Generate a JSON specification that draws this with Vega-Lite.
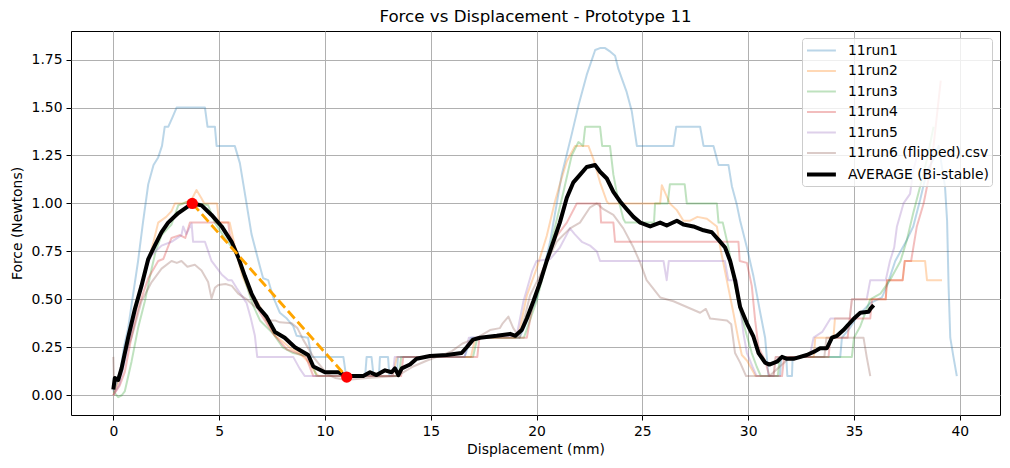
{
  "$schema": "https://vega.github.io/schema/vega-lite/v6.json",
  "width": 929,
  "height": 384,
  "autosize": {"type": "none"},
  "padding": {"left": 71, "top": 31, "right": 10, "bottom": 53},
  "background": "white",
  "title": {"text": "Force vs Displacement - Prototype 11", "font": "DejaVu Sans", "fontSize": 16.67, "fontWeight": "normal", "color": "black", "anchor": "middle", "baseline": "bottom", "offset": 5, "dy": 17},
  "config": {
    "view": {"stroke": "black", "strokeWidth": 1},
    "font": "DejaVu Sans",
    "axis": {"domain": false, "grid": true, "gridColor": "#b0b0b0", "gridWidth": 1, "tickColor": "black", "tickSize": 5, "tickWidth": 1, "labelFont": "DejaVu Sans", "labelFontSize": 13.9, "labelColor": "black", "labelPadding": 4, "titleFont": "DejaVu Sans", "titleFontSize": 13.9, "titleFontWeight": "normal", "titleColor": "black"}
  },
  "datasets": {
    "runs": [
      {"s":"11run1","x":0,"y":0.02},{"s":"11run1","x":0.3,"y":0.1},{"s":"11run1","x":0.5,"y":0.25},{"s":"11run1","x":0.7,"y":0.35},{"s":"11run1","x":0.9,"y":0.5},{"s":"11run1","x":1.17,"y":0.7},{"s":"11run1","x":1.4,"y":0.9},{"s":"11run1","x":1.65,"y":1.1},{"s":"11run1","x":1.9,"y":1.2},{"s":"11run1","x":2.12,"y":1.24},{"s":"11run1","x":2.3,"y":1.3},{"s":"11run1","x":2.43,"y":1.4},{"s":"11run1","x":2.6,"y":1.4},{"s":"11run1","x":2.8,"y":1.45},{"s":"11run1","x":2.99,"y":1.5},{"s":"11run1","x":4.33,"y":1.5},{"s":"11run1","x":4.45,"y":1.4},{"s":"11run1","x":4.8,"y":1.4},{"s":"11run1","x":4.88,"y":1.3},{"s":"11run1","x":5.74,"y":1.3},{"s":"11run1","x":5.98,"y":1.21},{"s":"11run1","x":6.22,"y":1.05},{"s":"11run1","x":6.53,"y":0.84},{"s":"11run1","x":6.93,"y":0.67},{"s":"11run1","x":7.08,"y":0.61},{"s":"11run1","x":7.32,"y":0.6},{"s":"11run1","x":7.56,"y":0.51},{"s":"11run1","x":7.87,"y":0.43},{"s":"11run1","x":8.2,"y":0.4},{"s":"11run1","x":8.5,"y":0.36},{"s":"11run1","x":8.66,"y":0.31},{"s":"11run1","x":9.2,"y":0.3},{"s":"11run1","x":9.37,"y":0.2},{"s":"11run1","x":10.87,"y":0.2},{"s":"11run1","x":11.0,"y":0.1},{"s":"11run1","x":11.9,"y":0.1},{"s":"11run1","x":11.97,"y":0.2},{"s":"11run1","x":12.2,"y":0.2},{"s":"11run1","x":12.3,"y":0.1},{"s":"11run1","x":12.55,"y":0.1},{"s":"11run1","x":12.6,"y":0.2},{"s":"11run1","x":12.98,"y":0.2},{"s":"11run1","x":13.05,"y":0.1},{"s":"11run1","x":13.4,"y":0.1},{"s":"11run1","x":13.45,"y":0.2},{"s":"11run1","x":16.6,"y":0.2},{"s":"11run1","x":16.9,"y":0.3},{"s":"11run1","x":19.2,"y":0.3},{"s":"11run1","x":19.6,"y":0.4},{"s":"11run1","x":20.0,"y":0.505},{"s":"11run1","x":20.64,"y":0.8},{"s":"11run1","x":21.19,"y":1.15},{"s":"11run1","x":21.66,"y":1.36},{"s":"11run1","x":21.98,"y":1.51},{"s":"11run1","x":22.37,"y":1.67},{"s":"11run1","x":22.77,"y":1.8},{"s":"11run1","x":23.0,"y":1.81},{"s":"11run1","x":23.24,"y":1.81},{"s":"11run1","x":23.5,"y":1.79},{"s":"11run1","x":23.71,"y":1.77},{"s":"11run1","x":23.87,"y":1.7},{"s":"11run1","x":24.26,"y":1.58},{"s":"11run1","x":24.5,"y":1.48},{"s":"11run1","x":24.74,"y":1.3},{"s":"11run1","x":26.47,"y":1.3},{"s":"11run1","x":26.6,"y":1.4},{"s":"11run1","x":27.73,"y":1.4},{"s":"11run1","x":27.89,"y":1.3},{"s":"11run1","x":28.36,"y":1.3},{"s":"11run1","x":28.6,"y":1.2},{"s":"11run1","x":29.07,"y":1.2},{"s":"11run1","x":29.23,"y":1.09},{"s":"11run1","x":29.47,"y":0.99},{"s":"11run1","x":29.62,"y":0.91},{"s":"11run1","x":29.94,"y":0.77},{"s":"11run1","x":30.25,"y":0.62},{"s":"11run1","x":30.57,"y":0.43},{"s":"11run1","x":30.8,"y":0.3},{"s":"11run1","x":30.88,"y":0.2},{"s":"11run1","x":30.96,"y":0.1},{"s":"11run1","x":31.5,"y":0.1},{"s":"11run1","x":31.57,"y":0.2},{"s":"11run1","x":31.8,"y":0.2},{"s":"11run1","x":31.85,"y":0.1},{"s":"11run1","x":32.07,"y":0.1},{"s":"11run1","x":32.1,"y":0.2},{"s":"11run1","x":34.35,"y":0.2},{"s":"11run1","x":34.43,"y":0.3},{"s":"11run1","x":34.8,"y":0.35},{"s":"11run1","x":35.14,"y":0.41},{"s":"11run1","x":35.77,"y":0.48},{"s":"11run1","x":36.32,"y":0.51},{"s":"11run1","x":36.56,"y":0.57},{"s":"11run1","x":36.95,"y":0.7},{"s":"11run1","x":37.5,"y":0.81},{"s":"11run1","x":37.8,"y":0.88},{"s":"11run1","x":38.13,"y":1.02},{"s":"11run1","x":38.45,"y":1.17},{"s":"11run1","x":38.76,"y":1.23},{"s":"11run1","x":39.0,"y":1.3},{"s":"11run1","x":39.1,"y":1.23},{"s":"11run1","x":39.3,"y":1.09},{"s":"11run1","x":39.4,"y":0.91},{"s":"11run1","x":39.47,"y":0.57},{"s":"11run1","x":39.55,"y":0.3},{"s":"11run1","x":39.7,"y":0.2},{"s":"11run1","x":39.86,"y":0.1},
      {"s":"11run2","x":0,"y":0.0},{"s":"11run2","x":0.3,"y":0.08},{"s":"11run2","x":0.54,"y":0.21},{"s":"11run2","x":0.85,"y":0.35},{"s":"11run2","x":1.17,"y":0.5},{"s":"11run2","x":1.4,"y":0.6},{"s":"11run2","x":1.65,"y":0.7},{"s":"11run2","x":1.9,"y":0.8},{"s":"11run2","x":2.12,"y":0.9},{"s":"11run2","x":2.5,"y":0.93},{"s":"11run2","x":2.75,"y":0.96},{"s":"11run2","x":2.91,"y":1.0},{"s":"11run2","x":3.3,"y":1.0},{"s":"11run2","x":3.7,"y":1.02},{"s":"11run2","x":3.93,"y":1.07},{"s":"11run2","x":4.15,"y":1.03},{"s":"11run2","x":4.3,"y":1.0},{"s":"11run2","x":4.9,"y":1.0},{"s":"11run2","x":5.0,"y":0.9},{"s":"11run2","x":5.5,"y":0.9},{"s":"11run2","x":5.8,"y":0.75},{"s":"11run2","x":6.1,"y":0.62},{"s":"11run2","x":6.4,"y":0.55},{"s":"11run2","x":6.85,"y":0.48},{"s":"11run2","x":7.2,"y":0.4},{"s":"11run2","x":7.64,"y":0.31},{"s":"11run2","x":8.0,"y":0.28},{"s":"11run2","x":8.43,"y":0.24},{"s":"11run2","x":8.8,"y":0.22},{"s":"11run2","x":9.21,"y":0.175},{"s":"11run2","x":9.53,"y":0.12},{"s":"11run2","x":9.7,"y":0.1},{"s":"11run2","x":13.2,"y":0.1},{"s":"11run2","x":13.4,"y":0.2},{"s":"11run2","x":16.9,"y":0.2},{"s":"11run2","x":17.1,"y":0.3},{"s":"11run2","x":19.0,"y":0.3},{"s":"11run2","x":19.22,"y":0.35},{"s":"11run2","x":19.54,"y":0.52},{"s":"11run2","x":20.0,"y":0.66},{"s":"11run2","x":20.48,"y":0.83},{"s":"11run2","x":20.87,"y":1.01},{"s":"11run2","x":21.1,"y":1.1},{"s":"11run2","x":21.43,"y":1.22},{"s":"11run2","x":21.82,"y":1.3},{"s":"11run2","x":22.45,"y":1.3},{"s":"11run2","x":22.69,"y":1.23},{"s":"11run2","x":23.0,"y":1.11},{"s":"11run2","x":23.32,"y":1.01},{"s":"11run2","x":23.4,"y":1.0},{"s":"11run2","x":25.84,"y":1.0},{"s":"11run2","x":25.92,"y":1.095},{"s":"11run2","x":26.1,"y":1.05},{"s":"11run2","x":26.3,"y":1.0},{"s":"11run2","x":26.63,"y":0.965},{"s":"11run2","x":26.94,"y":0.91},{"s":"11run2","x":27.26,"y":0.91},{"s":"11run2","x":27.6,"y":0.93},{"s":"11run2","x":28.05,"y":0.92},{"s":"11run2","x":28.52,"y":0.88},{"s":"11run2","x":28.68,"y":0.77},{"s":"11run2","x":28.99,"y":0.6},{"s":"11run2","x":29.3,"y":0.43},{"s":"11run2","x":29.54,"y":0.29},{"s":"11run2","x":29.7,"y":0.21},{"s":"11run2","x":29.95,"y":0.18},{"s":"11run2","x":30.35,"y":0.1},{"s":"11run2","x":31.2,"y":0.1},{"s":"11run2","x":31.3,"y":0.2},{"s":"11run2","x":33.1,"y":0.2},{"s":"11run2","x":33.17,"y":0.3},{"s":"11run2","x":34.03,"y":0.3},{"s":"11run2","x":34.1,"y":0.4},{"s":"11run2","x":34.8,"y":0.4},{"s":"11run2","x":34.9,"y":0.5},{"s":"11run2","x":36.5,"y":0.5},{"s":"11run2","x":36.56,"y":0.6},{"s":"11run2","x":37.3,"y":0.6},{"s":"11run2","x":37.4,"y":0.7},{"s":"11run2","x":38.36,"y":0.7},{"s":"11run2","x":38.45,"y":0.6},{"s":"11run2","x":39.16,"y":0.6},
      {"s":"11run3","x":0,"y":0.02},{"s":"11run3","x":0.23,"y":-0.01},{"s":"11run3","x":0.4,"y":0.0},{"s":"11run3","x":0.54,"y":0.02},{"s":"11run3","x":0.86,"y":0.175},{"s":"11run3","x":1.17,"y":0.35},{"s":"11run3","x":1.49,"y":0.49},{"s":"11run3","x":1.81,"y":0.66},{"s":"11run3","x":2.0,"y":0.75},{"s":"11run3","x":2.28,"y":0.835},{"s":"11run3","x":2.75,"y":0.89},{"s":"11run3","x":3.07,"y":0.99},{"s":"11run3","x":3.54,"y":1.01},{"s":"11run3","x":4.0,"y":1.0},{"s":"11run3","x":4.48,"y":0.99},{"s":"11run3","x":4.8,"y":0.9},{"s":"11run3","x":5.27,"y":0.82},{"s":"11run3","x":5.82,"y":0.74},{"s":"11run3","x":6.3,"y":0.57},{"s":"11run3","x":6.6,"y":0.47},{"s":"11run3","x":6.93,"y":0.39},{"s":"11run3","x":7.56,"y":0.32},{"s":"11run3","x":8.0,"y":0.25},{"s":"11run3","x":8.5,"y":0.22},{"s":"11run3","x":9.3,"y":0.2},{"s":"11run3","x":9.6,"y":0.1},{"s":"11run3","x":13.5,"y":0.1},{"s":"11run3","x":13.6,"y":0.2},{"s":"11run3","x":17.0,"y":0.2},{"s":"11run3","x":17.2,"y":0.3},{"s":"11run3","x":19.4,"y":0.3},{"s":"11run3","x":20.0,"y":0.49},{"s":"11run3","x":20.64,"y":0.77},{"s":"11run3","x":21.27,"y":1.06},{"s":"11run3","x":21.66,"y":1.25},{"s":"11run3","x":21.98,"y":1.32},{"s":"11run3","x":22.2,"y":1.3},{"s":"11run3","x":22.3,"y":1.4},{"s":"11run3","x":23.0,"y":1.4},{"s":"11run3","x":23.1,"y":1.3},{"s":"11run3","x":23.47,"y":1.3},{"s":"11run3","x":23.63,"y":1.15},{"s":"11run3","x":23.8,"y":1.05},{"s":"11run3","x":24.1,"y":0.92},{"s":"11run3","x":24.2,"y":0.9},{"s":"11run3","x":25.55,"y":0.9},{"s":"11run3","x":25.6,"y":1.0},{"s":"11run3","x":26.2,"y":1.0},{"s":"11run3","x":26.3,"y":1.1},{"s":"11run3","x":27.0,"y":1.1},{"s":"11run3","x":27.1,"y":1.0},{"s":"11run3","x":28.52,"y":1.0},{"s":"11run3","x":28.6,"y":0.9},{"s":"11run3","x":28.8,"y":0.9},{"s":"11run3","x":29.07,"y":0.77},{"s":"11run3","x":29.3,"y":0.62},{"s":"11run3","x":29.62,"y":0.44},{"s":"11run3","x":29.94,"y":0.31},{"s":"11run3","x":30.17,"y":0.22},{"s":"11run3","x":30.4,"y":0.15},{"s":"11run3","x":30.6,"y":0.1},{"s":"11run3","x":31.4,"y":0.1},{"s":"11run3","x":31.5,"y":0.2},{"s":"11run3","x":34.9,"y":0.2},{"s":"11run3","x":35.0,"y":0.3},{"s":"11run3","x":35.3,"y":0.36},{"s":"11run3","x":35.77,"y":0.5},{"s":"11run3","x":36.25,"y":0.53},{"s":"11run3","x":36.7,"y":0.6},{"s":"11run3","x":37.2,"y":0.7},{"s":"11run3","x":37.5,"y":0.81},{"s":"11run3","x":37.8,"y":0.95},{"s":"11run3","x":38.13,"y":1.09},{"s":"11run3","x":38.45,"y":1.23},{"s":"11run3","x":38.76,"y":1.4},
      {"s":"11run4","x":0,"y":0.0},{"s":"11run4","x":0.3,"y":0.05},{"s":"11run4","x":0.54,"y":0.12},{"s":"11run4","x":0.85,"y":0.3},{"s":"11run4","x":1.17,"y":0.45},{"s":"11run4","x":1.4,"y":0.53},{"s":"11run4","x":1.65,"y":0.61},{"s":"11run4","x":2.12,"y":0.7},{"s":"11run4","x":2.36,"y":0.71},{"s":"11run4","x":2.75,"y":0.82},{"s":"11run4","x":3.14,"y":0.835},{"s":"11run4","x":3.4,"y":0.82},{"s":"11run4","x":3.62,"y":0.9},{"s":"11run4","x":5.43,"y":0.9},{"s":"11run4","x":5.5,"y":0.84},{"s":"11run4","x":5.98,"y":0.7},{"s":"11run4","x":6.45,"y":0.53},{"s":"11run4","x":6.93,"y":0.43},{"s":"11run4","x":7.56,"y":0.32},{"s":"11run4","x":8.19,"y":0.24},{"s":"11run4","x":9.1,"y":0.2},{"s":"11run4","x":9.45,"y":0.1},{"s":"11run4","x":13.6,"y":0.1},{"s":"11run4","x":13.7,"y":0.2},{"s":"11run4","x":17.2,"y":0.2},{"s":"11run4","x":17.3,"y":0.3},{"s":"11run4","x":19.54,"y":0.3},{"s":"11run4","x":19.85,"y":0.49},{"s":"11run4","x":20.32,"y":0.66},{"s":"11run4","x":20.95,"y":0.83},{"s":"11run4","x":21.43,"y":0.9},{"s":"11run4","x":21.9,"y":1.0},{"s":"11run4","x":23.0,"y":1.0},{"s":"11run4","x":23.05,"y":0.9},{"s":"11run4","x":23.63,"y":0.9},{"s":"11run4","x":23.71,"y":0.8},{"s":"11run4","x":29.54,"y":0.8},{"s":"11run4","x":29.6,"y":0.7},{"s":"11run4","x":29.94,"y":0.69},{"s":"11run4","x":30.17,"y":0.57},{"s":"11run4","x":30.33,"y":0.39},{"s":"11run4","x":30.49,"y":0.25},{"s":"11run4","x":30.8,"y":0.18},{"s":"11run4","x":31.0,"y":0.1},{"s":"11run4","x":31.6,"y":0.1},{"s":"11run4","x":31.7,"y":0.2},{"s":"11run4","x":33.8,"y":0.2},{"s":"11run4","x":33.88,"y":0.3},{"s":"11run4","x":34.7,"y":0.3},{"s":"11run4","x":34.8,"y":0.4},{"s":"11run4","x":35.77,"y":0.4},{"s":"11run4","x":35.85,"y":0.5},{"s":"11run4","x":36.5,"y":0.5},{"s":"11run4","x":36.56,"y":0.6},{"s":"11run4","x":37.3,"y":0.6},{"s":"11run4","x":37.4,"y":0.7},{"s":"11run4","x":37.7,"y":0.7},{"s":"11run4","x":37.97,"y":0.88},{"s":"11run4","x":38.29,"y":1.0},{"s":"11run4","x":38.6,"y":1.17},{"s":"11run4","x":38.76,"y":1.3},{"s":"11run4","x":39.1,"y":1.64},
      {"s":"11run5","x":0,"y":0.0},{"s":"11run5","x":0.3,"y":0.06},{"s":"11run5","x":0.54,"y":0.175},{"s":"11run5","x":0.85,"y":0.33},{"s":"11run5","x":1.17,"y":0.5},{"s":"11run5","x":1.5,"y":0.65},{"s":"11run5","x":1.81,"y":0.73},{"s":"11run5","x":2.28,"y":0.78},{"s":"11run5","x":2.75,"y":0.8},{"s":"11run5","x":3.22,"y":0.835},{"s":"11run5","x":3.3,"y":0.88},{"s":"11run5","x":3.45,"y":0.84},{"s":"11run5","x":3.7,"y":0.895},{"s":"11run5","x":3.77,"y":0.8},{"s":"11run5","x":4.33,"y":0.8},{"s":"11run5","x":4.64,"y":0.7},{"s":"11run5","x":5.12,"y":0.63},{"s":"11run5","x":5.43,"y":0.6},{"s":"11run5","x":5.6,"y":0.6},{"s":"11run5","x":5.82,"y":0.56},{"s":"11run5","x":6.3,"y":0.48},{"s":"11run5","x":6.5,"y":0.4},{"s":"11run5","x":6.69,"y":0.31},{"s":"11run5","x":6.8,"y":0.2},{"s":"11run5","x":8.5,"y":0.2},{"s":"11run5","x":8.8,"y":0.14},{"s":"11run5","x":9.05,"y":0.1},{"s":"11run5","x":13.2,"y":0.1},{"s":"11run5","x":13.3,"y":0.2},{"s":"11run5","x":16.6,"y":0.2},{"s":"11run5","x":16.8,"y":0.3},{"s":"11run5","x":19.06,"y":0.31},{"s":"11run5","x":19.38,"y":0.49},{"s":"11run5","x":19.8,"y":0.65},{"s":"11run5","x":20.0,"y":0.7},{"s":"11run5","x":20.64,"y":0.71},{"s":"11run5","x":21.1,"y":0.77},{"s":"11run5","x":21.58,"y":0.87},{"s":"11run5","x":21.8,"y":0.84},{"s":"11run5","x":22.14,"y":0.8},{"s":"11run5","x":22.53,"y":0.78},{"s":"11run5","x":22.85,"y":0.75},{"s":"11run5","x":23.0,"y":0.7},{"s":"11run5","x":26.0,"y":0.7},{"s":"11run5","x":26.15,"y":0.6},{"s":"11run5","x":26.25,"y":0.7},{"s":"11run5","x":28.9,"y":0.7},{"s":"11run5","x":29.06,"y":0.6},{"s":"11run5","x":29.47,"y":0.6},{"s":"11run5","x":29.62,"y":0.46},{"s":"11run5","x":29.78,"y":0.32},{"s":"11run5","x":29.94,"y":0.22},{"s":"11run5","x":30.2,"y":0.15},{"s":"11run5","x":30.4,"y":0.1},{"s":"11run5","x":31.2,"y":0.1},{"s":"11run5","x":31.3,"y":0.2},{"s":"11run5","x":32.9,"y":0.2},{"s":"11run5","x":33.09,"y":0.3},{"s":"11run5","x":33.5,"y":0.33},{"s":"11run5","x":33.89,"y":0.4},{"s":"11run5","x":34.8,"y":0.4},{"s":"11run5","x":34.9,"y":0.5},{"s":"11run5","x":35.6,"y":0.5},{"s":"11run5","x":35.77,"y":0.6},{"s":"11run5","x":36.5,"y":0.6},{"s":"11run5","x":36.7,"y":0.7},{"s":"11run5","x":36.9,"y":0.77},{"s":"11run5","x":37.03,"y":0.88},{"s":"11run5","x":37.34,"y":1.0},{"s":"11run5","x":37.65,"y":1.05},{"s":"11run5","x":37.8,"y":1.17},{"s":"11run5","x":37.97,"y":1.24},
      {"s":"11run6 (flipped).csv","x":0,"y":0.2},{"s":"11run6 (flipped).csv","x":0.05,"y":0.02},{"s":"11run6 (flipped).csv","x":0.2,"y":0.08},{"s":"11run6 (flipped).csv","x":0.5,"y":0.2},{"s":"11run6 (flipped).csv","x":0.86,"y":0.3},{"s":"11run6 (flipped).csv","x":1.33,"y":0.49},{"s":"11run6 (flipped).csv","x":1.81,"y":0.59},{"s":"11run6 (flipped).csv","x":2.28,"y":0.66},{"s":"11run6 (flipped).csv","x":2.75,"y":0.7},{"s":"11run6 (flipped).csv","x":3.0,"y":0.69},{"s":"11run6 (flipped).csv","x":3.22,"y":0.7},{"s":"11run6 (flipped).csv","x":3.5,"y":0.67},{"s":"11run6 (flipped).csv","x":3.85,"y":0.68},{"s":"11run6 (flipped).csv","x":4.17,"y":0.65},{"s":"11run6 (flipped).csv","x":4.48,"y":0.59},{"s":"11run6 (flipped).csv","x":4.64,"y":0.505},{"s":"11run6 (flipped).csv","x":4.8,"y":0.56},{"s":"11run6 (flipped).csv","x":4.96,"y":0.575},{"s":"11run6 (flipped).csv","x":5.3,"y":0.58},{"s":"11run6 (flipped).csv","x":5.6,"y":0.57},{"s":"11run6 (flipped).csv","x":5.9,"y":0.53},{"s":"11run6 (flipped).csv","x":6.3,"y":0.5},{"s":"11run6 (flipped).csv","x":6.6,"y":0.47},{"s":"11run6 (flipped).csv","x":7.0,"y":0.44},{"s":"11run6 (flipped).csv","x":7.24,"y":0.39},{"s":"11run6 (flipped).csv","x":7.64,"y":0.39},{"s":"11run6 (flipped).csv","x":7.87,"y":0.38},{"s":"11run6 (flipped).csv","x":8.43,"y":0.375},{"s":"11run6 (flipped).csv","x":8.7,"y":0.35},{"s":"11run6 (flipped).csv","x":8.97,"y":0.29},{"s":"11run6 (flipped).csv","x":9.45,"y":0.2},{"s":"11run6 (flipped).csv","x":10.1,"y":0.11},{"s":"11run6 (flipped).csv","x":10.5,"y":0.09},{"s":"11run6 (flipped).csv","x":11.0,"y":0.08},{"s":"11run6 (flipped).csv","x":12.0,"y":0.09},{"s":"11run6 (flipped).csv","x":13.4,"y":0.1},{"s":"11run6 (flipped).csv","x":14.17,"y":0.15},{"s":"11run6 (flipped).csv","x":14.8,"y":0.18},{"s":"11run6 (flipped).csv","x":15.3,"y":0.2},{"s":"11run6 (flipped).csv","x":16.0,"y":0.23},{"s":"11run6 (flipped).csv","x":16.5,"y":0.27},{"s":"11run6 (flipped).csv","x":17.2,"y":0.3},{"s":"11run6 (flipped).csv","x":17.8,"y":0.34},{"s":"11run6 (flipped).csv","x":18.27,"y":0.35},{"s":"11run6 (flipped).csv","x":18.4,"y":0.375},{"s":"11run6 (flipped).csv","x":18.67,"y":0.41},{"s":"11run6 (flipped).csv","x":18.9,"y":0.35},{"s":"11run6 (flipped).csv","x":19.2,"y":0.3},{"s":"11run6 (flipped).csv","x":19.69,"y":0.52},{"s":"11run6 (flipped).csv","x":20.32,"y":0.66},{"s":"11run6 (flipped).csv","x":20.95,"y":0.8},{"s":"11run6 (flipped).csv","x":21.58,"y":0.87},{"s":"11run6 (flipped).csv","x":22.05,"y":0.9},{"s":"11run6 (flipped).csv","x":22.53,"y":0.98},{"s":"11run6 (flipped).csv","x":22.85,"y":1.0},{"s":"11run6 (flipped).csv","x":23.16,"y":0.97},{"s":"11run6 (flipped).csv","x":23.63,"y":0.94},{"s":"11run6 (flipped).csv","x":24.1,"y":0.87},{"s":"11run6 (flipped).csv","x":24.58,"y":0.77},{"s":"11run6 (flipped).csv","x":24.9,"y":0.69},{"s":"11run6 (flipped).csv","x":25.2,"y":0.6},{"s":"11run6 (flipped).csv","x":25.84,"y":0.51},{"s":"11run6 (flipped).csv","x":26.47,"y":0.49},{"s":"11run6 (flipped).csv","x":27.1,"y":0.46},{"s":"11run6 (flipped).csv","x":27.73,"y":0.43},{"s":"11run6 (flipped).csv","x":28.0,"y":0.45},{"s":"11run6 (flipped).csv","x":28.2,"y":0.4},{"s":"11run6 (flipped).csv","x":29.0,"y":0.39},{"s":"11run6 (flipped).csv","x":29.2,"y":0.37},{"s":"11run6 (flipped).csv","x":29.38,"y":0.22},{"s":"11run6 (flipped).csv","x":29.62,"y":0.17},{"s":"11run6 (flipped).csv","x":29.9,"y":0.1},{"s":"11run6 (flipped).csv","x":31.0,"y":0.1},{"s":"11run6 (flipped).csv","x":31.5,"y":0.15},{"s":"11run6 (flipped).csv","x":32.0,"y":0.2},{"s":"11run6 (flipped).csv","x":33.6,"y":0.2},{"s":"11run6 (flipped).csv","x":33.7,"y":0.3},{"s":"11run6 (flipped).csv","x":35.45,"y":0.3},{"s":"11run6 (flipped).csv","x":35.6,"y":0.2},{"s":"11run6 (flipped).csv","x":35.77,"y":0.1},
      {"s":"AVERAGE (Bi-stable)","x":0,"y":0.03},{"s":"AVERAGE (Bi-stable)","x":0.07,"y":0.09},{"s":"AVERAGE (Bi-stable)","x":0.23,"y":0.08},{"s":"AVERAGE (Bi-stable)","x":0.39,"y":0.14},{"s":"AVERAGE (Bi-stable)","x":0.7,"y":0.3},{"s":"AVERAGE (Bi-stable)","x":1.02,"y":0.45},{"s":"AVERAGE (Bi-stable)","x":1.33,"y":0.57},{"s":"AVERAGE (Bi-stable)","x":1.65,"y":0.71},{"s":"AVERAGE (Bi-stable)","x":1.96,"y":0.78},{"s":"AVERAGE (Bi-stable)","x":2.28,"y":0.85},{"s":"AVERAGE (Bi-stable)","x":2.59,"y":0.9},{"s":"AVERAGE (Bi-stable)","x":3.07,"y":0.95},{"s":"AVERAGE (Bi-stable)","x":3.46,"y":0.98},{"s":"AVERAGE (Bi-stable)","x":3.73,"y":1.0},{"s":"AVERAGE (Bi-stable)","x":4.17,"y":0.99},{"s":"AVERAGE (Bi-stable)","x":4.64,"y":0.94},{"s":"AVERAGE (Bi-stable)","x":5.12,"y":0.88},{"s":"AVERAGE (Bi-stable)","x":5.59,"y":0.8},{"s":"AVERAGE (Bi-stable)","x":5.9,"y":0.72},{"s":"AVERAGE (Bi-stable)","x":6.22,"y":0.62},{"s":"AVERAGE (Bi-stable)","x":6.53,"y":0.53},{"s":"AVERAGE (Bi-stable)","x":6.85,"y":0.46},{"s":"AVERAGE (Bi-stable)","x":7.24,"y":0.41},{"s":"AVERAGE (Bi-stable)","x":7.64,"y":0.33},{"s":"AVERAGE (Bi-stable)","x":8.1,"y":0.3},{"s":"AVERAGE (Bi-stable)","x":8.58,"y":0.25},{"s":"AVERAGE (Bi-stable)","x":9.21,"y":0.21},{"s":"AVERAGE (Bi-stable)","x":9.45,"y":0.15},{"s":"AVERAGE (Bi-stable)","x":10.0,"y":0.12},{"s":"AVERAGE (Bi-stable)","x":10.63,"y":0.12},{"s":"AVERAGE (Bi-stable)","x":11.03,"y":0.1},{"s":"AVERAGE (Bi-stable)","x":11.81,"y":0.1},{"s":"AVERAGE (Bi-stable)","x":12.13,"y":0.12},{"s":"AVERAGE (Bi-stable)","x":12.44,"y":0.105},{"s":"AVERAGE (Bi-stable)","x":12.84,"y":0.13},{"s":"AVERAGE (Bi-stable)","x":13.15,"y":0.12},{"s":"AVERAGE (Bi-stable)","x":13.31,"y":0.14},{"s":"AVERAGE (Bi-stable)","x":13.47,"y":0.105},{"s":"AVERAGE (Bi-stable)","x":13.63,"y":0.14},{"s":"AVERAGE (Bi-stable)","x":14.02,"y":0.16},{"s":"AVERAGE (Bi-stable)","x":14.33,"y":0.19},{"s":"AVERAGE (Bi-stable)","x":14.96,"y":0.205},{"s":"AVERAGE (Bi-stable)","x":15.75,"y":0.21},{"s":"AVERAGE (Bi-stable)","x":16.46,"y":0.22},{"s":"AVERAGE (Bi-stable)","x":16.7,"y":0.25},{"s":"AVERAGE (Bi-stable)","x":17.0,"y":0.29},{"s":"AVERAGE (Bi-stable)","x":17.33,"y":0.3},{"s":"AVERAGE (Bi-stable)","x":18.12,"y":0.31},{"s":"AVERAGE (Bi-stable)","x":18.75,"y":0.32},{"s":"AVERAGE (Bi-stable)","x":19.0,"y":0.31},{"s":"AVERAGE (Bi-stable)","x":19.3,"y":0.34},{"s":"AVERAGE (Bi-stable)","x":19.54,"y":0.4},{"s":"AVERAGE (Bi-stable)","x":19.85,"y":0.49},{"s":"AVERAGE (Bi-stable)","x":20.17,"y":0.59},{"s":"AVERAGE (Bi-stable)","x":20.48,"y":0.7},{"s":"AVERAGE (Bi-stable)","x":20.79,"y":0.8},{"s":"AVERAGE (Bi-stable)","x":21.1,"y":0.9},{"s":"AVERAGE (Bi-stable)","x":21.43,"y":1.03},{"s":"AVERAGE (Bi-stable)","x":21.74,"y":1.11},{"s":"AVERAGE (Bi-stable)","x":22.06,"y":1.15},{"s":"AVERAGE (Bi-stable)","x":22.37,"y":1.19},{"s":"AVERAGE (Bi-stable)","x":22.77,"y":1.2},{"s":"AVERAGE (Bi-stable)","x":23.0,"y":1.165},{"s":"AVERAGE (Bi-stable)","x":23.32,"y":1.13},{"s":"AVERAGE (Bi-stable)","x":23.63,"y":1.06},{"s":"AVERAGE (Bi-stable)","x":23.95,"y":1.01},{"s":"AVERAGE (Bi-stable)","x":24.26,"y":0.97},{"s":"AVERAGE (Bi-stable)","x":24.58,"y":0.93},{"s":"AVERAGE (Bi-stable)","x":24.9,"y":0.9},{"s":"AVERAGE (Bi-stable)","x":25.37,"y":0.88},{"s":"AVERAGE (Bi-stable)","x":25.84,"y":0.9},{"s":"AVERAGE (Bi-stable)","x":26.15,"y":0.885},{"s":"AVERAGE (Bi-stable)","x":26.63,"y":0.91},{"s":"AVERAGE (Bi-stable)","x":26.94,"y":0.89},{"s":"AVERAGE (Bi-stable)","x":27.41,"y":0.88},{"s":"AVERAGE (Bi-stable)","x":27.89,"y":0.86},{"s":"AVERAGE (Bi-stable)","x":28.28,"y":0.85},{"s":"AVERAGE (Bi-stable)","x":28.6,"y":0.81},{"s":"AVERAGE (Bi-stable)","x":28.91,"y":0.77},{"s":"AVERAGE (Bi-stable)","x":29.15,"y":0.7},{"s":"AVERAGE (Bi-stable)","x":29.38,"y":0.6},{"s":"AVERAGE (Bi-stable)","x":29.62,"y":0.46},{"s":"AVERAGE (Bi-stable)","x":29.94,"y":0.375},{"s":"AVERAGE (Bi-stable)","x":30.25,"y":0.305},{"s":"AVERAGE (Bi-stable)","x":30.49,"y":0.22},{"s":"AVERAGE (Bi-stable)","x":30.8,"y":0.17},{"s":"AVERAGE (Bi-stable)","x":31.0,"y":0.16},{"s":"AVERAGE (Bi-stable)","x":31.36,"y":0.175},{"s":"AVERAGE (Bi-stable)","x":31.6,"y":0.2},{"s":"AVERAGE (Bi-stable)","x":31.83,"y":0.19},{"s":"AVERAGE (Bi-stable)","x":32.14,"y":0.19},{"s":"AVERAGE (Bi-stable)","x":32.77,"y":0.21},{"s":"AVERAGE (Bi-stable)","x":33.17,"y":0.23},{"s":"AVERAGE (Bi-stable)","x":33.4,"y":0.245},{"s":"AVERAGE (Bi-stable)","x":33.72,"y":0.245},{"s":"AVERAGE (Bi-stable)","x":33.96,"y":0.3},{"s":"AVERAGE (Bi-stable)","x":34.2,"y":0.31},{"s":"AVERAGE (Bi-stable)","x":34.5,"y":0.34},{"s":"AVERAGE (Bi-stable)","x":34.67,"y":0.36},{"s":"AVERAGE (Bi-stable)","x":35.0,"y":0.4},{"s":"AVERAGE (Bi-stable)","x":35.3,"y":0.43},{"s":"AVERAGE (Bi-stable)","x":35.69,"y":0.435},{"s":"AVERAGE (Bi-stable)","x":35.77,"y":0.45},{"s":"AVERAGE (Bi-stable)","x":35.93,"y":0.47}
    ],
    "extremes": [
      {"kind": "peak", "x": 3.73, "y": 1.0},
      {"kind": "valley", "x": 11.03, "y": 0.095}
    ]
  },
  "layer": [
    {
      "data": {"name": "runs"},
      "mark": {"type": "line", "interpolate": "linear", "strokeJoin": "round", "strokeCap": "butt"},
      "encoding": {
        "x": {"field": "x", "type": "quantitative", "scale": {"domain": [-2.0, 41.9], "nice": false, "zero": false}, "axis": {"title": "Displacement (mm)", "values": [0, 5, 10, 15, 20, 25, 30, 35, 40], "format": "d", "titlePadding": 5}},
        "y": {"field": "y", "type": "quantitative", "scale": {"domain": [-0.103, 1.899], "nice": false, "zero": false}, "axis": {"title": "Force (Newtons)", "values": [0, 0.25, 0.5, 0.75, 1.0, 1.25, 1.5, 1.75], "format": ".2f", "titlePadding": 7}},
        "color": {"field": "s", "type": "nominal", "scale": {"domain": ["11run1", "11run2", "11run3", "11run4", "11run5", "11run6 (flipped).csv", "AVERAGE (Bi-stable)"], "range": ["#1f77b4", "#ff7f0e", "#2ca02c", "#d62728", "#9467bd", "#8c564b", "#000000"]},
          "legend": {"title": null, "orient": "none", "legendX": 731, "legendY": 7, "symbolType": "M-1,0H2.4", "symbolSize": 289, "labelFont": "DejaVu Sans", "labelFontSize": 13.9, "labelColor": "black", "labelOffset": 22, "labelLimit": 400, "rowPadding": 3.5, "padding": 3, "fillColor": "rgba(255,255,255,0.8)", "strokeColor": "#cccccc", "cornerRadius": 3}},
        "opacity": {"field": "s", "type": "nominal", "scale": {"type": "ordinal", "domain": ["11run1", "11run2", "11run3", "11run4", "11run5", "11run6 (flipped).csv", "AVERAGE (Bi-stable)"], "range": [0.3, 0.3, 0.3, 0.3, 0.3, 0.3, 1]}},
        "strokeWidth": {"field": "s", "type": "nominal", "scale": {"type": "ordinal", "domain": ["11run1", "11run2", "11run3", "11run4", "11run5", "11run6 (flipped).csv", "AVERAGE (Bi-stable)"], "range": [2, 2, 2, 2, 2, 2, 4]}}
      }
    },
    {
      "data": {"name": "extremes"},
      "mark": {"type": "line", "color": "#ffa500", "strokeWidth": 2.8, "strokeDash": [10, 4.4]},
      "encoding": {
        "x": {"field": "x", "type": "quantitative"},
        "y": {"field": "y", "type": "quantitative"}
      }
    },
    {
      "data": {"name": "extremes"},
      "mark": {"type": "circle", "color": "#ff0000", "opacity": 1, "size": 127},
      "encoding": {
        "x": {"field": "x", "type": "quantitative"},
        "y": {"field": "y", "type": "quantitative"}
      }
    }
  ]
}
